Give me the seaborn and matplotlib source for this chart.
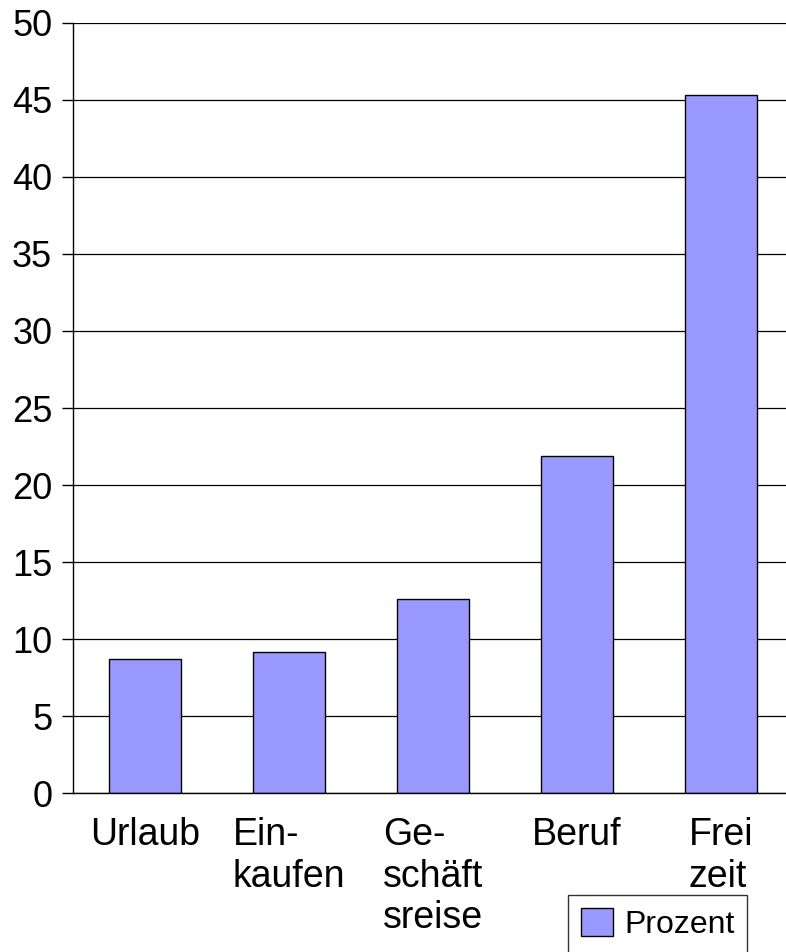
import numpy as np
import pandas as pd
import matplotlib
matplotlib.use('Agg')
import matplotlib.pyplot as plt
import seaborn as sns
from matplotlib.patches import Patch

categories = ['Urlaub', 'Einkaufen', 'Geschäftsreise', 'Beruf', 'Freizeit']
tick_labels = ['Urlaub', 'Ein-\nkaufen', 'Ge-\nschäft\nsreise', 'Beruf', 'Frei\nzeit']
prozent = [8.7, 9.2, 12.6, 21.9, 45.3]
series_name = 'Prozent'

sns.set_style('white')
plt.rcParams['font.family'] = ['Liberation Sans', 'DejaVu Sans']
plt.rcParams['text.color'] = 'black'

df = pd.DataFrame({'Kategorie': categories, 'Wert': prozent, 'Serie': series_name})

fig = plt.figure(figsize=(7.86, 9.52), dpi=100)
# plot area runs past the right edge of the picture, as in the original
ax = fig.add_axes([73 / 786, 158.7 / 952, 720 / 786, 770.6 / 952])

sns.barplot(data=df, x='Kategorie', y='Wert', hue='Serie', palette={series_name: '#9999ff'},
            width=0.5, edgecolor='black', linewidth=1, saturation=1, ax=ax, legend=False)

ax.set_xlim(-0.5, len(categories) - 0.5)
ax.set_ylim(0, 50)
ax.set_yticks(np.arange(0, 51, 5))
ax.yaxis.grid(True, color='black', linewidth=0.9)
ax.set_axisbelow(True)
for s in ['top', 'right']:
    ax.spines[s].set_visible(False)
for s in ['left', 'bottom']:
    ax.spines[s].set_color('black')
    ax.spines[s].set_linewidth(1)

ax.set_xticks(range(len(categories)))
ax.set_xticklabels(tick_labels, multialignment='left', linespacing=1.2)
ax.set_xticks(np.arange(-0.5, len(categories) - 0.5, 1), minor=True)
ax.tick_params(axis='x', which='major', length=0, pad=17, labelsize=27, labelcolor='black')
ax.tick_params(axis='x', which='minor', length=8, width=1, color='#555555', direction='out')
ax.tick_params(axis='y', length=8, width=1, color='black', direction='out', pad=7,
               labelsize=26, labelcolor='black', left=True)
ax.set_xlabel('')
ax.set_ylabel('')

handle = Patch(facecolor='#9999ff', edgecolor='black', linewidth=1, label=series_name)
leg = fig.legend(handles=[handle], loc='upper left', bbox_to_anchor=(568 / 786, 1 - 895 / 952),
                 fontsize=23, frameon=True, fancybox=False, framealpha=1, edgecolor='#333333',
                 borderpad=0.4, handlelength=1.0, handleheight=1.0, handletextpad=0.35,
                 borderaxespad=0)
leg.get_frame().set_linewidth(1)

fig.savefig('out.png', dpi=100)
